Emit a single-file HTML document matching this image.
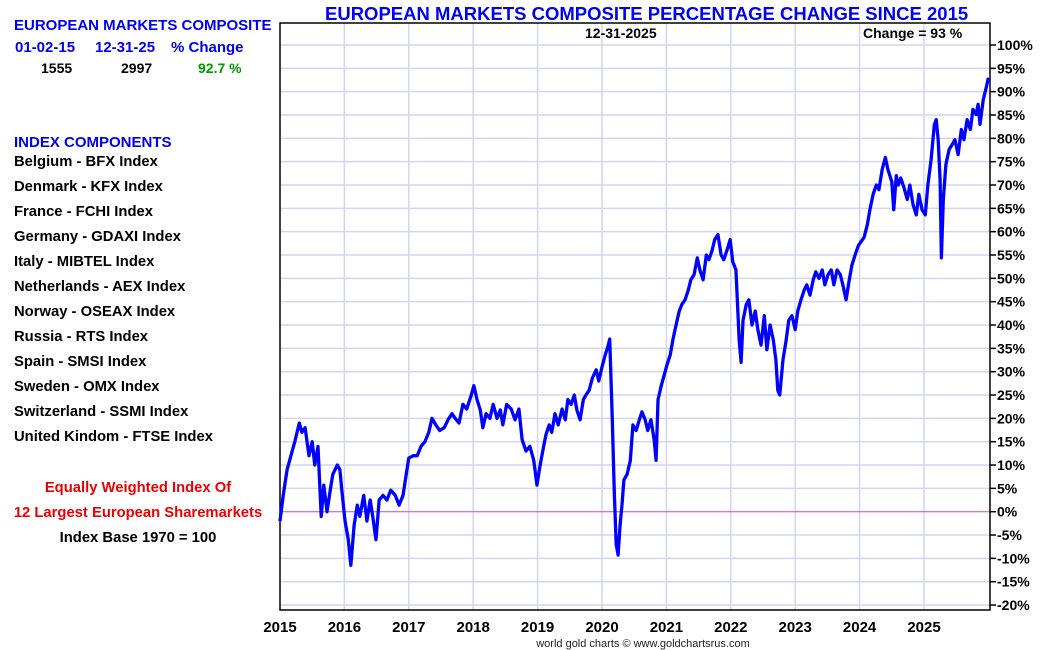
<!DOCTYPE html>
<html><head><meta charset="utf-8"><style>
body{margin:0;background:#fff;width:1050px;height:650px;overflow:hidden;font-family:"Liberation Sans",sans-serif}
.t{position:absolute;font-weight:bold;white-space:nowrap}
.b{color:#0000ee}.k{color:#000}.r{color:#ee0000}
</style></head><body>
<div style="position:relative;width:1050px;height:650px">
<div class="t b" style="left:14px;top:17px;font-size:15px">EUROPEAN MARKETS COMPOSITE</div>
<div class="t b" style="left:15px;top:39px;font-size:15px">01-02-15</div>
<div class="t b" style="left:95px;top:39px;font-size:15px">12-31-25</div>
<div class="t b" style="left:171px;top:39px;font-size:15px">% Change</div>
<div class="t k" style="left:41px;top:60px;font-size:14px">1555</div>
<div class="t k" style="left:121px;top:60px;font-size:14px">2997</div>
<div class="t" style="left:198px;top:60px;font-size:14px;color:#009900">92.7 %</div>
<div class="t b" style="left:14px;top:134px;font-size:15px">INDEX COMPONENTS</div>
<div id="comps"></div>
<div class="t r" style="left:0;width:276px;text-align:center;top:480px;font-size:14.8px">Equally Weighted Index Of</div>
<div class="t r" style="left:0;width:276px;text-align:center;top:505px;font-size:14.8px">12 Largest European Sharemarkets</div>
<div class="t k" style="left:0;width:276px;text-align:center;top:530px;font-size:14.8px">Index Base 1970 = 100</div>
<div class="t b" style="left:325px;top:3px;font-size:18.5px">EUROPEAN MARKETS COMPOSITE PERCENTAGE CHANGE SINCE 2015</div>
<svg id="svg" width="1050" height="650" style="position:absolute;left:0;top:0"></svg>
</div>
<script>
const comps=["Belgium - BFX Index","Denmark - KFX Index","France - FCHI Index","Germany - GDAXI Index","Italy - MIBTEL Index","Netherlands - AEX Index","Norway - OSEAX Index","Russia - RTS Index","Spain - SMSI Index","Sweden - OMX Index","Switzerland - SSMI Index","United Kindom - FTSE Index"];
const yTicks=[100,95,90,85,80,75,70,65,60,55,50,45,40,35,30,25,20,15,10,5,0,-5,-10,-15,-20];
const xYears=[2015,2016,2017,2018,2019,2020,2021,2022,2023,2024,2025];
const dates=[0,.05,.11,.17,.23,.30,.34,.39,.45,.50,.54,.59,.64,.68,.73,.78,.82,.89,.93,.96,1.01,1.06,1.10,1.15,1.20,1.24,1.30,1.35,1.40,1.44,1.49,1.54,1.60,1.66,1.72,1.79,1.85,1.91,1.96,2.00,2.07,2.13,2.19,2.25,2.31,2.36,2.42,2.48,2.55,2.61,2.67,2.72,2.78,2.84,2.90,2.97,3.01,3.06,3.11,3.15,3.20,3.26,3.31,3.37,3.42,3.46,3.52,3.59,3.65,3.71,3.76,3.82,3.88,3.94,3.99,4.04,4.08,4.13,4.18,4.22,4.27,4.32,4.38,4.43,4.47,4.52,4.57,4.61,4.66,4.71,4.75,4.80,4.85,4.91,4.95,5.00,5.05,5.09,5.12,5.16,5.19,5.22,5.25,5.28,5.31,5.34,5.39,5.44,5.48,5.53,5.58,5.62,5.67,5.71,5.76,5.81,5.84,5.87,5.92,5.96,6.01,6.06,6.10,6.15,6.20,6.24,6.29,6.34,6.38,6.43,6.48,6.52,6.57,6.62,6.66,6.71,6.75,6.80,6.85,6.89,6.94,6.99,7.03,7.08,7.13,7.16,7.19,7.24,7.28,7.33,7.38,7.42,7.47,7.52,7.56,7.61,7.66,7.70,7.73,7.76,7.81,7.86,7.90,7.95,8.00,8.04,8.09,8.14,8.18,8.23,8.28,8.32,8.37,8.42,8.46,8.51,8.56,8.60,8.65,8.70,8.74,8.79,8.84,8.88,8.93,8.98,9.02,9.07,9.12,9.16,9.21,9.26,9.30,9.35,9.40,9.44,9.47,9.50,9.53,9.57,9.60,9.64,9.69,9.74,9.78,9.83,9.88,9.92,9.97,10.02,10.06,10.11,10.16,10.19,10.22,10.25,10.27,10.30,10.34,10.39,10.44,10.48,10.53,10.58,10.62,10.67,10.72,10.76,10.81,10.84,10.87,10.92,10.96,11.00];
const pct=[-2,3.5,9,12,15,19,17,18,12,15,10,14,-1,5.7,0,4.6,8,10,9,4.6,-2,-6,-11.5,-3,1.4,-1,3.5,-2,2.5,-1,-6,2.5,3.5,2.5,4.6,3.5,1.4,3.5,8,11.5,12,12,14,15,17,20,18.6,17.4,18,19.7,21,20,19,23,22,25,27,24,21.8,18,21,20,23,20,21.8,18.6,23,22,19.7,22,15.4,13,14,11,5.7,10,13,16.5,18.6,17,21,18.6,22,19.7,24,23,25,21.8,19.7,24,25,26,28.6,30.4,28,31,33.6,35.3,37,19.7,4.6,-7,-9.3,-3,1.4,6.8,8,11,18.6,17.4,19.7,21.4,19.7,17.4,19.7,15.4,11,24,27,29,31.5,33.6,36.8,40,43,44.4,45.4,47.5,49.7,50.8,54.4,51.8,49.7,55,54,56,58.3,59.4,55,54,56,58.3,53.6,51.8,36.8,32,41,44.4,45.4,40,43,39,35.7,42,34.7,40,36.8,32.5,26,25,32.5,36.8,41,42,39,43,45.4,47.5,48.6,46.4,49.7,51.4,50,51.8,48.6,50.8,51.8,48.6,51.8,50.8,48.6,45.4,49.7,52.8,55,57,57.8,58.8,61.5,64.7,68,70,69,73.3,75.9,73.3,72,70.7,64.7,72,70,71.5,69.4,66.9,70,65.8,63.6,68,64.7,63.6,70,75.4,82.9,84,79.7,71.1,54.4,66.9,74.4,77.6,78.7,79.7,76.5,81.9,79.7,84,81.9,86.2,85.1,87.3,83,88.3,90.5,93];
const L=280,R=990,T=23,B=610;
const xs=t=>L+(t)*64.4;
const ys=v=>511.7-v*4.667;
const NS="http://www.w3.org/2000/svg";
const svg=document.getElementById('svg');
function mk(tag,at){const e=document.createElementNS(NS,tag);for(const k in at)e.setAttribute(k,at[k]);svg.appendChild(e);return e;}
const cd=document.getElementById('comps');
comps.forEach((c,i)=>{const d=document.createElement('div');d.className='t k';d.style.left='14px';d.style.top=(154+i*25)+'px';d.style.fontSize='14.8px';d.textContent=c;


cd.appendChild(d);});
yTicks.forEach(v=>{const y=ys(v);
if(v!==0){const g=mk('line',{x1:L,x2:R,y1:y,y2:y,stroke:'#d4d4f4','stroke-width':1.5});

}
const tk=mk('line',{x1:R,x2:R+6,y1:y,y2:y,stroke:'#000','stroke-width':1.5});


const tx=mk('text',{x:R+7,y:y+5,'font-size':14,'font-weight':'bold','font-family':'"Liberation Sans Narrow","Liberation Sans",sans-serif',fill:'#000'});
tx.textContent=v+'%';

});
xYears.forEach(yr=>{const x=xs(yr-2015);
if(yr>2015){const g=mk('line',{x1:x,x2:x,y1:T,y2:B,stroke:'#d4d4f4','stroke-width':1.5});

}
const tx=mk('text',{x:x,y:632,'text-anchor':'middle','font-size':15,'font-weight':'bold','font-family':'"Liberation Sans Narrow","Liberation Sans",sans-serif',fill:'#000'});
tx.textContent=yr;

});
const z=mk('line',{x1:L,x2:R,y1:ys(0),y2:ys(0),stroke:'#d040d0','stroke-width':1});


const fr=mk('rect',{x:L,y:T,width:R-L,height:B-T,fill:'none',stroke:'#000','stroke-width':1.5});


const line=mk('polyline',{points:dates.map((d,i)=>xs(d)+','+ys(pct[i])).join(' '),fill:'none',stroke:'#0000ff','stroke-width':3.3,'stroke-linejoin':'round'});


const a=mk('text',{x:585,y:38,'font-size':14,'font-weight':'bold','font-family':'"Liberation Sans",sans-serif'});a.textContent='12-31-2025';


const b=mk('text',{x:863,y:38,'font-size':14,'font-weight':'bold','font-family':'"Liberation Sans",sans-serif'});b.textContent='Change = 93 %';


const c=mk('text',{x:643,y:647,'text-anchor':'middle','font-size':11,'font-family':'"Liberation Sans Narrow","Liberation Sans",sans-serif',fill:'#222'});c.textContent='world gold charts © www.goldchartsrus.com';


</script>
</body></html>
